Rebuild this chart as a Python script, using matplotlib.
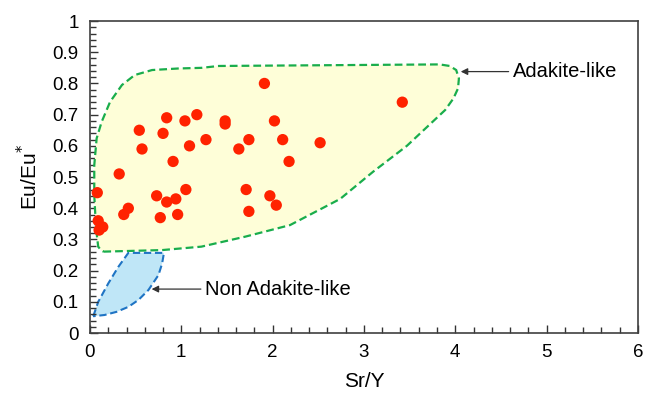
import matplotlib
matplotlib.use("Agg")
import matplotlib.pyplot as plt
from matplotlib.patches import Polygon
from matplotlib.ticker import MultipleLocator

plt.rcParams['font.family'] = ['Liberation Sans', 'DejaVu Sans']

# Sample data (Sr/Y, Eu/Eu*)
sr_y = [1.91, 0.84, 1.04, 1.17, 1.48, 1.48, 2.02, 0.54, 0.80, 0.57, 1.09, 1.27,
        1.63, 1.74, 2.11, 0.91, 0.32, 0.08, 1.05, 0.73, 0.84, 0.94, 1.71, 1.97,
        2.04, 1.74, 0.42, 0.37, 0.77, 0.96, 0.09, 0.14, 0.10, 2.52, 2.18, 3.42]
eu_eu = [0.80, 0.69, 0.68, 0.70, 0.68, 0.67, 0.68, 0.65, 0.64, 0.59, 0.60, 0.62,
         0.59, 0.62, 0.62, 0.55, 0.51, 0.45, 0.46, 0.44, 0.42, 0.43, 0.46, 0.44,
         0.41, 0.39, 0.40, 0.38, 0.37, 0.38, 0.36, 0.34, 0.33, 0.61, 0.55, 0.74]

# Field outlines (Sr/Y, Eu/Eu*)
adakite_x = [0.146, 0.79, 1.22, 1.70, 2.19, 2.74, 3.10, 3.47, 3.89, 3.98, 4.03, 4.04,
             4.01, 3.94, 3.83, 1.41, 1.22, 0.97, 0.68, 0.49, 0.35, 0.22, 0.128,
             0.073, 0.047, 0.047, 0.066, 0.09, 0.12]
adakite_y = [0.261, 0.266, 0.277, 0.309, 0.346, 0.43, 0.517, 0.60, 0.715, 0.752, 0.784,
             0.816, 0.843, 0.856, 0.861, 0.856, 0.850, 0.848, 0.843, 0.827, 0.795,
             0.741, 0.677, 0.624, 0.538, 0.442, 0.336, 0.277, 0.266]
non_x = [0.036, 0.09, 0.20, 0.31, 0.42, 0.81, 0.79, 0.75, 0.64, 0.53, 0.42, 0.29, 0.16]
non_y = [0.054, 0.10, 0.159, 0.212, 0.257, 0.257, 0.223, 0.186, 0.138, 0.106, 0.084,
         0.068, 0.058]

fig = plt.figure(figsize=(6.45, 3.97), dpi=100)
ax = fig.add_axes([0.1395, 0.161, 0.8495, 0.786])

ax.add_patch(Polygon(list(zip(non_x, non_y)), closed=True, facecolor='#bfe6f7',
                     edgecolor='#1f74c4', lw=1.5, ls=(0, (3.5, 1.8)), zorder=1))
ax.add_patch(Polygon(list(zip(adakite_x, adakite_y)), closed=True, facecolor='#fefed8',
                     edgecolor='#19ad4c', lw=1.6, ls=(0, (3.5, 1.8)), zorder=2))

ax.scatter(sr_y, eu_eu, s=66, color='#ff2200', edgecolors='none', zorder=3)

ax.annotate('Adakite-like', xy=(4.06, 0.838), xytext=(4.63, 0.838),
            fontsize=14.5, va='center', ha='left',
            arrowprops=dict(arrowstyle='-|>', color='#333333', lw=0.9,
                            mutation_scale=10, shrinkA=1, shrinkB=0))
ax.annotate('Non Adakite-like', xy=(0.675, 0.141), xytext=(1.26, 0.141),
            fontsize=14.5, va='center', ha='left',
            arrowprops=dict(arrowstyle='-|>', color='#333333', lw=0.9,
                            mutation_scale=10, shrinkA=1, shrinkB=0))

ax.set_xlim(0, 6)
ax.set_ylim(0, 1)
ax.xaxis.set_major_locator(MultipleLocator(1))
ax.xaxis.set_minor_locator(MultipleLocator(0.2))
ax.yaxis.set_major_locator(MultipleLocator(0.1))
ax.yaxis.set_minor_locator(MultipleLocator(0.02))
ax.set_yticks([i / 10 for i in range(11)])
ax.set_yticklabels(['0'] + ['0.%d' % i for i in range(1, 10)] + ['1'])
ax.tick_params(which='both', direction='in', top=False, right=False, labelsize=13.5,
               color='#333333')
ax.tick_params(which='major', length=6, width=1, pad=8)
ax.tick_params(which='minor', length=4, width=1)
for s in ax.spines.values():
    s.set_color('#404040')
    s.set_linewidth(1.2)

ax.set_xlabel('Sr/Y', fontsize=15, labelpad=8)
ax.set_ylabel('Eu/Eu$^{*}$', fontsize=15, labelpad=8)

fig.savefig('out.png', dpi=100)
